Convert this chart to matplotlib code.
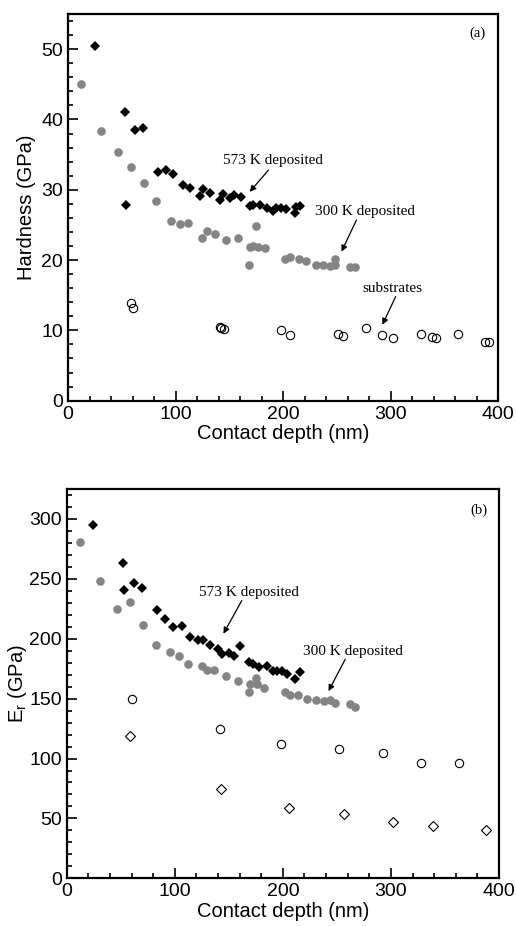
import matplotlib
matplotlib.use("Agg")
import matplotlib.pyplot as plt
from matplotlib.ticker import MultipleLocator

plt.rcParams['font.family'] = ['Liberation Sans', 'DejaVu Sans']
plt.rcParams['mathtext.default'] = 'regular'

# ---------------- data: (a) hardness ----------------
h573_x = [24.9, 52.8, 53.7, 62.7, 69.8, 83.4, 90.9, 98.0, 107.0, 113.8, 122.5, 126.0, 132.5, 141.0, 144.2,
          151.0, 154.0, 160.7, 169.0, 172.0, 178.3, 185.0, 190.7, 193.9, 198.5, 203.2, 210.9, 212.5, 215.5]
h573_y = [50.5, 41.0, 27.9, 38.5, 38.8, 32.5, 32.8, 32.2, 30.7, 30.3, 29.1, 30.1, 29.6, 28.5, 29.4,
          28.8, 29.3, 28.9, 27.7, 27.8, 27.9, 27.4, 27.0, 27.4, 27.4, 27.3, 26.7, 27.6, 27.7]

h300_x = [11.8, 31.1, 46.5, 58.3, 70.4, 82.2, 95.8, 104.6, 111.6, 125.0, 129.3, 136.7, 146.7, 158.5, 168.4,
          169.0, 172.5, 175.2, 176.7, 183.0, 202.2, 206.3, 214.6, 221.8, 230.4, 237.2, 243.4, 248.0, 248.0,
          262.7, 267.0]
h300_y = [45.1, 38.3, 35.3, 33.2, 31.0, 28.4, 25.5, 25.2, 25.3, 23.1, 24.1, 23.7, 22.9, 23.2, 19.3,
          21.9, 22.0, 24.9, 21.9, 21.7, 20.2, 20.5, 20.2, 19.9, 19.3, 19.3, 19.2, 19.3, 20.2,
          19.0, 19.0]

hsub_x = [58.3, 60.5, 141.0, 142.7, 144.8, 198.5, 206.3, 251.2, 255.8, 277.0, 292.5, 302.4, 328.7, 338.6,
          342.0, 362.8, 388.0, 391.6]
hsub_y = [13.9, 13.2, 10.5, 10.3, 10.2, 10.1, 9.4, 9.5, 9.2, 10.4, 9.4, 8.9, 9.5, 9.0,
          8.9, 9.5, 8.4, 8.3]

# ---------------- data: (b) reduced modulus ----------------
e573_x = [24.1, 51.8, 53.4, 62.3, 69.7, 83.9, 90.7, 98.1, 106.8, 114.2, 121.9, 126.5, 132.7, 140.4, 144.1,
          150.3, 154.6, 160.7, 169.1, 172.8, 178.3, 185.2, 191.3, 194.4, 199.4, 203.7, 211.4, 215.4]
e573_y = [295.3, 263.3, 240.3, 246.3, 242.5, 223.6, 216.3, 209.7, 210.5, 201.7, 198.6, 198.6, 194.7, 191.1,
          187.5, 188.0, 185.8, 193.6, 180.3, 179.2, 176.1, 177.2, 173.3, 173.0, 172.8, 170.8, 166.7, 171.9]

e300_x = [12.3, 30.8, 46.6, 58.6, 70.4, 82.4, 95.6, 104.3, 112.0, 125.3, 129.6, 136.7, 147.2, 158.9, 168.5,
          169.7, 175.3, 176.0, 183.0, 202.4, 206.8, 214.4, 222.2, 230.8, 237.6, 243.8, 248.4, 262.3, 267.0]
e300_y = [281.1, 247.8, 225.0, 230.5, 211.1, 194.4, 188.8, 185.5, 178.8, 176.9, 174.2, 173.6, 168.6, 164.4,
          155.3, 161.9, 166.9, 162.0, 158.8, 155.8, 152.8, 153.3, 150.0, 148.6, 148.0, 148.6, 146.7,
          145.3, 142.8]

esubc_x = [60.5, 141.9, 198.5, 251.5, 292.6, 328.0, 362.6]
esubc_y = [149.4, 124.4, 112.5, 108.3, 104.2, 96.6, 96.3]

esubd_x = [58.6, 143.1, 206.1, 256.1, 302.1, 338.5, 388.0]
esubd_y = [118.8, 74.4, 58.3, 53.6, 47.2, 43.3, 40.0]

GRAY = '#848484'

fig = plt.figure(figsize=(5.16, 9.26), dpi=100)
ax1 = fig.add_axes([0.1318, 0.5673, 0.8334, 0.4176])
ax2 = fig.add_axes([0.1293, 0.0515, 0.8378, 0.4204])

serif = ['Liberation Serif', 'DejaVu Serif']
arrow = dict(arrowstyle='-|>', color='black', lw=0.9, mutation_scale=9, shrinkA=0, shrinkB=0)


def style(ax, ymax, ymaj, ymin):
    ax.set_xlim(0, 400)
    ax.set_ylim(0, ymax)
    ax.xaxis.set_major_locator(MultipleLocator(100))
    ax.xaxis.set_minor_locator(MultipleLocator(20))
    ax.yaxis.set_major_locator(MultipleLocator(ymaj))
    ax.yaxis.set_minor_locator(MultipleLocator(ymin))
    ax.tick_params(which='both', direction='in', top=False, right=False, labelsize=14, width=1.2)
    ax.tick_params(which='major', length=7)
    ax.tick_params(which='minor', length=3.5)
    for s in ax.spines.values():
        s.set_linewidth(1.6)
    ax.set_xlabel('Contact depth (nm)', fontsize=14.5, labelpad=1)


# ---- (a)
ax1.plot(h573_x, h573_y, 'D', color='black', ms=5.2, mew=0, clip_on=False)
ax1.plot(h300_x, h300_y, 'o', color=GRAY, ms=6.2, mew=0, clip_on=False)
ax1.plot(hsub_x, hsub_y, 'o', mfc='none', mec='black', ms=6, mew=0.8, clip_on=False)
style(ax1, 55, 10, 2)
ax1.set_ylabel('Hardness (GPa)', fontsize=14.5, labelpad=4)
ax1.text(381, 52.3, '(a)', family=serif, fontsize=10.5, ha='center', va='center')
ax1.text(191, 34.1, '573 K deposited', family=serif, fontsize=11, ha='center', va='center')
ax1.annotate('', xy=(169, 29.7), xytext=(186.5, 32.8), arrowprops=arrow)
ax1.text(276.4, 26.9, '300 K deposited', family=serif, fontsize=11, ha='center', va='center')
ax1.annotate('', xy=(254.4, 21.2), xytext=(268.3, 25.7), arrowprops=arrow)
ax1.text(302, 16.0, 'substrates', family=serif, fontsize=11, ha='center', va='center')
ax1.annotate('', xy=(292.4, 10.8), xytext=(304.8, 14.8), arrowprops=arrow)

# ---- (b)
ax2.plot(e573_x, e573_y, 'D', color='black', ms=5.2, mew=0, clip_on=False)
ax2.plot(e300_x, e300_y, 'o', color=GRAY, ms=6.2, mew=0, clip_on=False)
ax2.plot(esubc_x, esubc_y, 'o', mfc='none', mec='black', ms=6, mew=0.8, clip_on=False)
ax2.plot(esubd_x, esubd_y, 'D', mfc='none', mec='black', ms=5.3, mew=0.8, clip_on=False)
style(ax2, 325, 50, 10)
ax2.set_ylabel('E$_r$ (GPa)', fontsize=14.5, labelpad=0)
ax2.text(381, 307, '(b)', family=serif, fontsize=10.5, ha='center', va='center')
ax2.text(168.6, 238.8, '573 K deposited', family=serif, fontsize=11, ha='center', va='center')
ax2.annotate('', xy=(145, 204.2), xytext=(162, 231.9), arrowprops=arrow)
ax2.text(264.8, 189.7, '300 K deposited', family=serif, fontsize=11, ha='center', va='center')
ax2.annotate('', xy=(242.2, 156.3), xytext=(257.7, 182.8), arrowprops=arrow)

fig.savefig('out.png', dpi=100, facecolor='white')
